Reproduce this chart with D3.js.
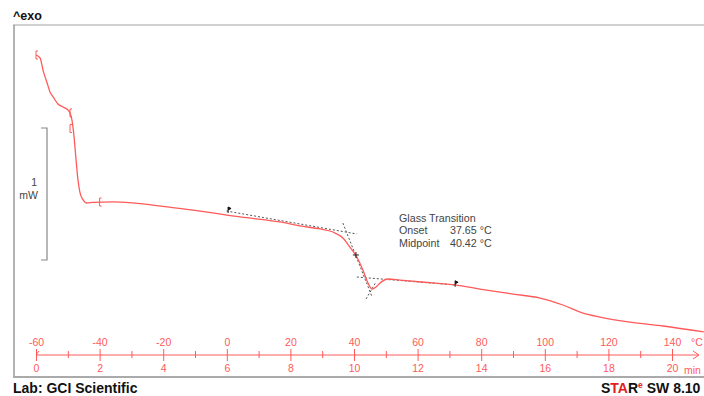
<!DOCTYPE html>
<html>
<head>
<meta charset="utf-8">
<script src="https://cdn.jsdelivr.net/npm/d3@7"></script>
<style>
  body { margin: 0; background: #fff; }
  text { font-family: "Liberation Sans", Arial, sans-serif; }
</style>
</head>
<body>
<div id="chart"></div>
<script>
// time (min) and heat flow (mW)
const times = [0.00, 0.13, 0.22, 0.35, 0.44, 0.54, 0.69, 0.85, 1.01, 1.07, 1.13, 1.20, 1.26, 1.32, 1.38,
  1.48, 1.60, 1.79, 2.42, 3.05, 4.12, 5.16, 6.42, 7.67, 8.30, 8.93, 9.34, 9.65, 9.87, 10.09, 10.28,
  10.44, 10.57, 10.69, 10.82, 11.07, 11.45, 12.48, 13.18, 13.96, 15.00, 15.85, 16.57, 17.20, 17.74,
  18.68, 19.72, 21.00];
const heatFlow = [1.553, 1.530, 1.439, 1.341, 1.273, 1.235, 1.182, 1.159, 1.136, 1.114, 1.061, 0.924,
  0.758, 0.606, 0.515, 0.455, 0.432, 0.437, 0.440, 0.432, 0.402, 0.371, 0.326, 0.288, 0.258, 0.235,
  0.212, 0.167, 0.098, 0.023, -0.076, -0.174, -0.220, -0.205, -0.174, -0.144, -0.152, -0.174, -0.189,
  -0.220, -0.258, -0.288, -0.341, -0.402, -0.432, -0.470, -0.500, -0.545];

// tangent construction lines [t1, v1, t2, v2]
const tangents = [
  [5.99, 0.371, 10.09, 0.197],
  [9.65, 0.280, 10.57, -0.280],
  [10.09, -0.129, 13.18, -0.189],
  [10.38, -0.295, 10.69, -0.167]
];
const flagMarks = [[6.04, 0.379], [13.18, -0.180]];
const midMark = [10.06, 0.038];
const limitMarks = [[0.0, 1.553], [1.07, 1.114], [1.07, 0.996], [2.0, 0.439]];

const timeTicks = d3.range(0, 21, 1);
const tempTicks = [-60, -40, -20, 0, 20, 40, 60, 80, 100, 120, 140];

const glassTitle = "Glass Transition";
const glassRows = [["Onset", "37.65 °C"], ["Midpoint", "40.42 °C"]];

const W = 704, H = 396;
const red = "#ff5a5a";

const svg = d3.select("#chart").append("svg")
  .attr("width", W)
  .attr("height", H);

const x = d3.scaleLinear().domain([0, 20]).range([36, 672]);
const xTemp = d3.scaleLinear().domain([-60, 140]).range([36, 672]);
const y = d3.scaleLinear().domain([0, 1]).range([260, 128]); // 1 mW = scale bar

// frame
svg.append("line").attr("x1", 13).attr("x2", W).attr("y1", 25).attr("y2", 25)
  .attr("stroke", "#d0d0d0").attr("stroke-width", 2);
svg.append("line").attr("x1", 14).attr("x2", 14).attr("y1", 25).attr("y2", 377)
  .attr("stroke", "#999").attr("stroke-width", 1.5);
svg.append("line").attr("x1", 13).attr("x2", W).attr("y1", 377).attr("y2", 377)
  .attr("stroke", "#aaa").attr("stroke-width", 2);

svg.append("text").attr("x", 13).attr("y", 20)
  .style("font-size", "12.5px").style("font-weight", "bold").attr("fill", "#111")
  .text("^exo");

// 1 mW scale bar
const bar = svg.append("g").attr("stroke", "#888").attr("fill", "none").attr("stroke-width", 1.2);
bar.append("path")
  .attr("d", `M41,${y(1)}H47V${y(0)}H41`);
svg.append("text").attr("x", 37).attr("y", 186).attr("text-anchor", "end")
  .style("font-size", "10.5px").attr("fill", "#444").text("1");
svg.append("text").attr("x", 38).attr("y", 199).attr("text-anchor", "end")
  .style("font-size", "10.5px").attr("fill", "#444").text("mW");

const plot = svg.append("g");
plot.append("clipPath").attr("id", "clip")
  .append("rect").attr("x", 15).attr("y", 26).attr("width", W - 15).attr("height", 350);

// tangents
plot.selectAll(".tan")
  .data(tangents)
  .join("line")
  .attr("class", "tan")
  .attr("x1", d => x(d[0])).attr("y1", d => y(d[1]))
  .attr("x2", d => x(d[2])).attr("y2", d => y(d[3]))
  .attr("stroke", "#555").attr("stroke-width", 1)
  .attr("stroke-dasharray", "2,2");

// curve
const data = times.map((t, i) => ({t: t, v: heatFlow[i]}));
plot.append("path")
  .datum(data)
  .attr("clip-path", "url(#clip)")
  .attr("fill", "none")
  .attr("stroke", red)
  .attr("stroke-width", 1.3)
  .attr("d", d3.line().x(d => x(d.t)).y(d => y(d.v)).curve(d3.curveMonotoneX));

// integration limit marks
plot.selectAll(".lim")
  .data(limitMarks)
  .join("path")
  .attr("class", "lim")
  .attr("d", d => `M${x(d[0]) + 2},${y(d[1]) - 4}h-2v8h2`)
  .attr("fill", "none").attr("stroke", red).attr("stroke-width", 1);

// evaluation markers
plot.selectAll(".flag")
  .data(flagMarks)
  .join("path")
  .attr("class", "flag")
  .attr("d", d => `M${x(d[0])},${y(d[1]) + 3}V${y(d[1]) - 3}l3,1.5l-3,1.5`)
  .attr("fill", "#111").attr("stroke", "#111").attr("stroke-width", 1);
plot.append("path")
  .attr("d", `M${x(midMark[0]) - 3},${y(midMark[1])}h6M${x(midMark[0])},${y(midMark[1]) - 3}v6`)
  .attr("stroke", "#222").attr("stroke-width", 1);

// annotation
const note = svg.append("g").style("font-size", "10.7px").attr("fill", "#444");
note.append("text").attr("x", 399).attr("y", 222).text(glassTitle);
glassRows.forEach((r, i) => {
  note.append("text").attr("x", 399).attr("y", 234 + i * 12.5).text(r[0]);
  note.append("text").attr("x", 450).attr("y", 234 + i * 12.5).text(r[1]);
});

// bottom axes: time below, temperature above
const axisY = 355;
const axisG = svg.append("g").attr("transform", `translate(0,${axisY})`);
axisG.call(d3.axisBottom(x).tickValues(timeTicks).tickSize(0).tickFormat(""));
axisG.select(".domain").remove();
axisG.append("line").attr("x1", x(0)).attr("x2", 699).attr("stroke", red).attr("stroke-width", 1);
axisG.append("path").attr("d", "M693,-4L699,0L693,4").attr("fill", "none").attr("stroke", red);
axisG.selectAll(".tick").append("line")
  .attr("y1", d => d % 2 === 0 ? -6 : -4)
  .attr("y2", d => d % 2 === 0 ? 6 : 3)
  .attr("stroke", red);
axisG.append("path").attr("d", `M${x(0)},0l3,-4`).attr("stroke", red);

const timeLab = svg.append("g").attr("transform", `translate(0,${axisY})`);
timeLab.call(d3.axisBottom(x).tickValues(timeTicks.filter(d => d % 2 === 0)).tickSize(0).tickPadding(10)
  .tickFormat(d => String(d)));
timeLab.select(".domain").remove();
timeLab.selectAll("text").attr("fill", red).style("font-size", "10.5px")
  .style("font-family", "'Liberation Sans', Arial, sans-serif");

const tempLab = svg.append("g").attr("transform", `translate(0,${axisY})`);
tempLab.call(d3.axisTop(xTemp).tickValues(tempTicks).tickSize(0).tickPadding(9)
  .tickFormat(d => String(d)));
tempLab.select(".domain").remove();
tempLab.selectAll("text").attr("fill", red).style("font-size", "10.5px")
  .style("font-family", "'Liberation Sans', Arial, sans-serif");

svg.append("text").attr("x", 691).attr("y", 346).attr("fill", red)
  .style("font-size", "10.5px").text("°C");
svg.append("text").attr("x", 684).attr("y", 374).attr("fill", red)
  .style("font-size", "10.5px").text("min");

// footer
svg.append("text").attr("x", 13).attr("y", 393)
  .style("font-size", "14px").style("font-weight", "bold").attr("fill", "#111")
  .text("Lab: GCI Scientific");
const star = svg.append("text").attr("x", 601).attr("y", 393)
  .style("font-size", "14px").style("font-weight", "bold").attr("fill", "#111");
star.append("tspan").text("S");
star.append("tspan").attr("fill", "#e02020").text("TA");
star.append("tspan").text("R");
star.append("tspan").attr("fill", "#e02020").attr("dy", -5).style("font-size", "8.5px").text("e");
star.append("tspan").attr("dy", 5).text(" SW 8.10");
</script>
</body>
</html>
